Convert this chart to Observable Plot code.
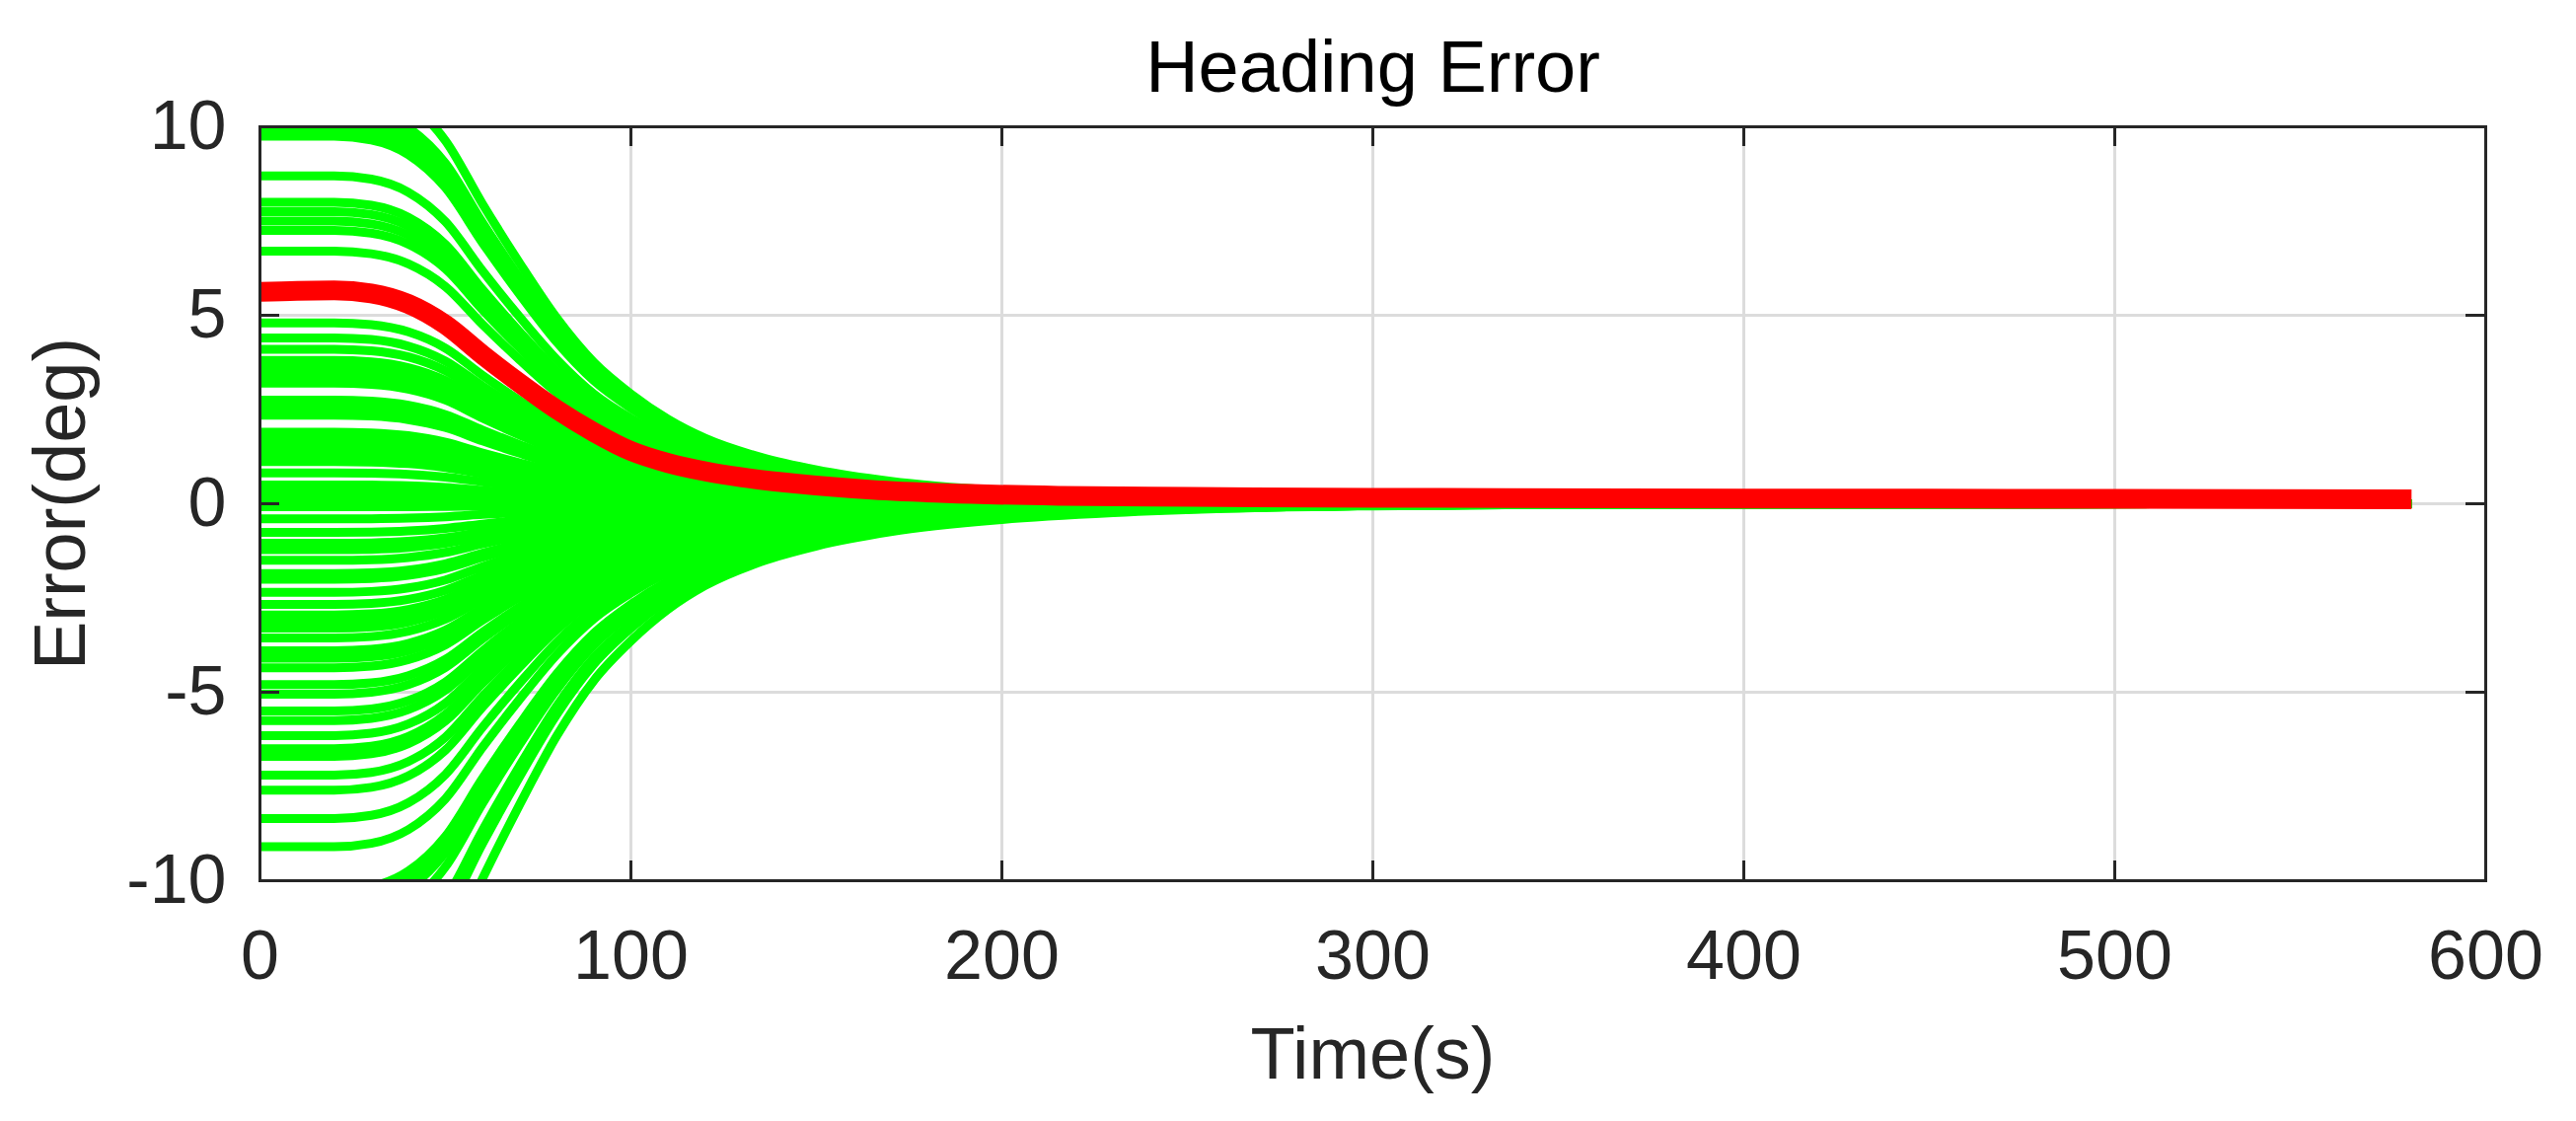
<!DOCTYPE html>
<html>
<head>
<meta charset="utf-8">
<script src="https://cdn.jsdelivr.net/npm/d3@7"></script>
<script src="https://cdn.jsdelivr.net/npm/@observablehq/plot@0.6"></script>
<style>
  html, body { margin: 0; padding: 0; background: #fff; }
  #chart svg { display: block; }
</style>
</head>
<body>
<div id="chart"></div>
<script>
// Axis ticks
const xTicks = [0, 100, 200, 300, 400, 500, 600];
const yTicks = [-10, -5, 0, 5, 10];

// Initial heading error (deg) of each green Monte-Carlo run, read at t = 0
const greenStart = [
  11.2, 10.5, 10.35, 10.15,
  9.95, 9.75, 8.7,
  8.0, 7.75, 7.5, 7.25, 6.7,
  4.8, 4.4, 4.1, 3.8, 3.6, 3.4, 3.2,
  2.75, 2.55, 2.35, 1.9, 1.7, 1.5, 1.3, 1.12,
  0.82, 0.5, 0.3, 0.1, -0.08, -0.4, -0.76,
  -1.05, -1.22, -1.5, -1.85, -2.0, -2.35, -2.67,
  -2.95, -3.15, -3.3, -3.56, -3.9, -4.1, -4.35,
  -4.8, -5.05, -5.5, -5.75, -6.15, -6.5, -6.7,
  -7.2, -7.6, -8.35, -9.1,
  -10.26, -10.5, -10.75, -11.2, -12.2, -12.7, -14.0
];

// Shared convergence shape of the green runs (fraction of initial error left), read from the envelope
const profileTime   = [0, 20, 30, 40, 50, 60, 70, 80, 90, 100, 110, 120, 135, 150, 170, 200, 230, 260, 300, 350, 450, 580];
const profileFactor = [1, 1, 0.99, 0.95, 0.86, 0.71, 0.57, 0.44, 0.335, 0.26, 0.2, 0.155, 0.11, 0.08, 0.053, 0.03, 0.017, 0.009, 0.004, 0.0015, 0.0005, 0];

// Red (nominal) run
const redTime  = [0, 10, 20, 30, 40, 50, 60, 70, 80, 90, 100, 110, 120, 130, 145, 165, 185, 216, 251, 300, 400, 500, 580];
const redValue = [5.62, 5.65, 5.66, 5.58, 5.3, 4.75, 3.95, 3.2, 2.5, 1.9, 1.4, 1.08, 0.86, 0.7, 0.53, 0.37, 0.28, 0.21, 0.18, 0.16, 0.14, 0.13, 0.12];

const greenRows = greenStart.flatMap((e0, run) =>
  profileTime.map((t, k) => ({run, t, v: e0 * profileFactor[k]}))
);
const redRows = redTime.map((t, k) => ({t, v: redValue[k]}));

const W = 2611, H = 1136;
const mL = 263, mR = 92, mT = 128, mB = 244;
const frameW = W - mL - mR, frameH = H - mT - mB;
const tickLen = 20;
const ink = "#262626";

const chart = Plot.plot({
  width: W,
  height: H,
  marginLeft: mL,
  marginRight: mR,
  marginTop: mT,
  marginBottom: mB,
  x: {domain: [0, 600]},
  y: {domain: [-10, 10]},
  style: {
    fontFamily: "'Liberation Sans', Arial, Helvetica, sans-serif",
    background: "#ffffff",
    color: ink
  },
  marks: [
    Plot.gridX(xTicks, {stroke: "#dcdcdc", strokeOpacity: 1, strokeWidth: 3}),
    Plot.gridY(yTicks, {stroke: "#dcdcdc", strokeOpacity: 1, strokeWidth: 3}),
    Plot.line(greenRows, {
      x: "t", y: "v", z: "run",
      stroke: "#00ff00", strokeWidth: 9, curve: "monotone-x",
      strokeLinecap: "butt", clip: true
    }),
    Plot.line(redRows, {
      x: "t", y: "v",
      stroke: "#ff0000", strokeWidth: 20, curve: "monotone-x",
      strokeLinecap: "butt", clip: true
    }),
    Plot.frame({stroke: ink, strokeWidth: 3}),
    // inward ticks on all four sides
    Plot.ruleX(xTicks, {x: d => d, stroke: ink, strokeWidth: 3, insetTop: frameH - tickLen}),
    Plot.ruleX(xTicks, {x: d => d, stroke: ink, strokeWidth: 3, insetBottom: frameH - tickLen}),
    Plot.ruleY(yTicks, {y: d => d, stroke: ink, strokeWidth: 3, insetRight: frameW - tickLen}),
    Plot.ruleY(yTicks, {y: d => d, stroke: ink, strokeWidth: 3, insetLeft: frameW - tickLen}),
    Plot.axisX(xTicks, {tickSize: 0, tickPadding: 50, fontSize: 70, label: null, fill: ink, tickFormat: d => String(d)}),
    Plot.axisY(yTicks, {tickSize: 0, tickPadding: 34, fontSize: 70, label: null, fill: ink, tickFormat: d => String(d)}),
    Plot.text(["Heading Error"], {frameAnchor: "top", dy: -59, fontSize: 74, lineAnchor: "middle", fill: "#000"}),
    Plot.text(["Time(s)"], {frameAnchor: "bottom", dy: 177, fontSize: 74, lineAnchor: "middle", fill: ink}),
    Plot.text(["Error(deg)"], {frameAnchor: "left", dx: -201, rotate: -90, fontSize: 74, lineAnchor: "middle", textAnchor: "middle", fill: ink})
  ]
});

document.getElementById("chart").appendChild(chart);
</script>
</body>
</html>
